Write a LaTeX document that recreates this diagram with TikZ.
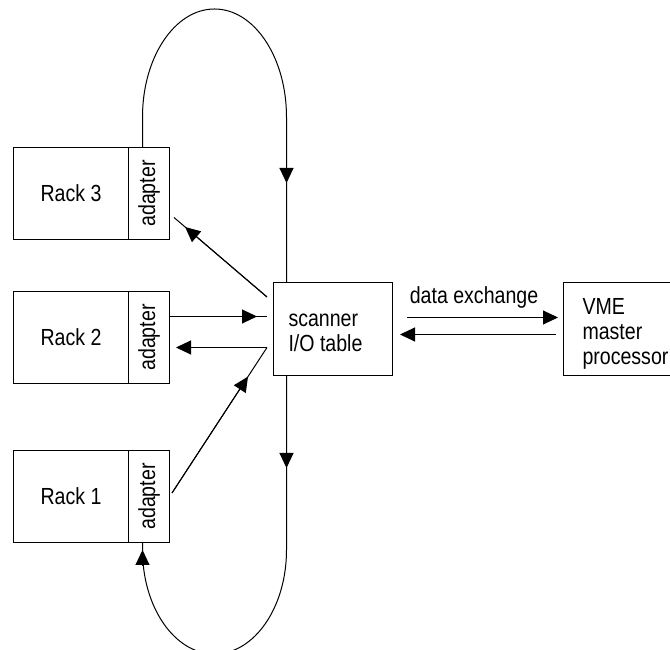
\documentclass[tikz,border=0pt]{standalone}
\usepackage{fontspec}
\setmainfont{Liberation Sans}[FakeStretch=0.84]
\usetikzlibrary{arrows.meta,calc}

\tikzset{
  box/.style={draw,inner sep=0pt},
  txt/.style={font=\fontsize{23.3}{25}\selectfont},
  tip/.style={-{Triangle[length=15pt,width=14pt]}},
}

\begin{document}
\begin{tikzpicture}[x=1pt,y=1pt,line width=1pt]
  \useasboundingbox (0,0) rectangle (670,650);
  % racks, each with its adapter on the right side
  \foreach \n/\y in {3/456.5,2/312.5,1/153.5} {
    \node[box,txt,minimum width=115pt,minimum height=92pt] (rack\n) at (71,\y) {Rack \n};
    \node[box,txt,rotate=90,minimum width=92pt,minimum height=41pt] (adp\n) at (149,\y) {adapter};
  }
  \node[box,minimum width=119pt,minimum height=93pt] (scan) at (333,321) {};
  \node[txt,align=left,anchor=west,inner sep=0pt] (scantxt) at ([shift={(15,-4)}]scan.west) {scanner\\I/O table};
  \node[box,minimum width=110pt,minimum height=93pt] (vme) at (618.5,321) {};
  \node[txt,align=left,anchor=west,inner sep=0pt] (vmetxt) at ([shift={(19,-4.5)}]vme.west) {VME\\master\\processor};
  \node[txt,inner sep=0pt] (xlabel) at (474,353) {data exchange};

  % loop over the top into the scanner
  \coordinate (upL) at (142.5,533);
  \coordinate (upR) at (286.5,533);
  \draw (upL |- adp3.east) -- (upL) arc[start angle=180,end angle=0,x radius=72,y radius=108] -- (upR |- scan.north);
  \draw[tip] (upR) -- ++(0,-66);

  % loop under the bottom back to rack 1
  \coordinate (dnL) at (142.5,100);
  \coordinate (dnR) at (286.5,100);
  \draw (dnR |- scan.south) -- (dnR) arc[start angle=0,end angle=-180,x radius=72,y radius=104] -- (dnL |- adp1.west);
  \draw[tip] (dnR |- scan.south) -- ++(0,-92);
  \draw[tip] ([yshift=-16pt]dnL) -- (dnL);

  % links between the adapters and the scanner
  \coordinate (in3) at ([shift={(-6,-15)}]scan.north west);
  \coordinate (r3) at ([shift={(4,-24)}]adp3.south);
  \draw (in3) -- (r3);
  \draw[tip] (in3) -- ($(in3)!0.88!(r3)$);

  \coordinate (in2) at ([shift={(-6,12.5)}]scan.west);
  \coordinate (out2) at ([shift={(-6,-18.5)}]scan.west);
  \draw (adp2.south |- in2) -- (in2);
  \draw[tip] (adp2.south |- in2) -- ([xshift=-10pt]in2);
  \draw[tip] (out2) -- ([xshift=6pt]adp2.south |- out2);

  \coordinate (r1) at ([shift={(2,3.5)}]adp1.south);
  \draw (r1) -- (out2);
  \draw[tip] (r1) -- ($(r1)!0.8!(out2)$);

  % data exchange with the processor
  \draw[tip] ([shift={(14,11.5)}]scan.east) -- ([shift={(-5,11.5)}]vme.west);
  \draw[tip] ([shift={(-7,-5.5)}]vme.west) -- ([shift={(7,-5.5)}]scan.east);
\end{tikzpicture}
\end{document}
